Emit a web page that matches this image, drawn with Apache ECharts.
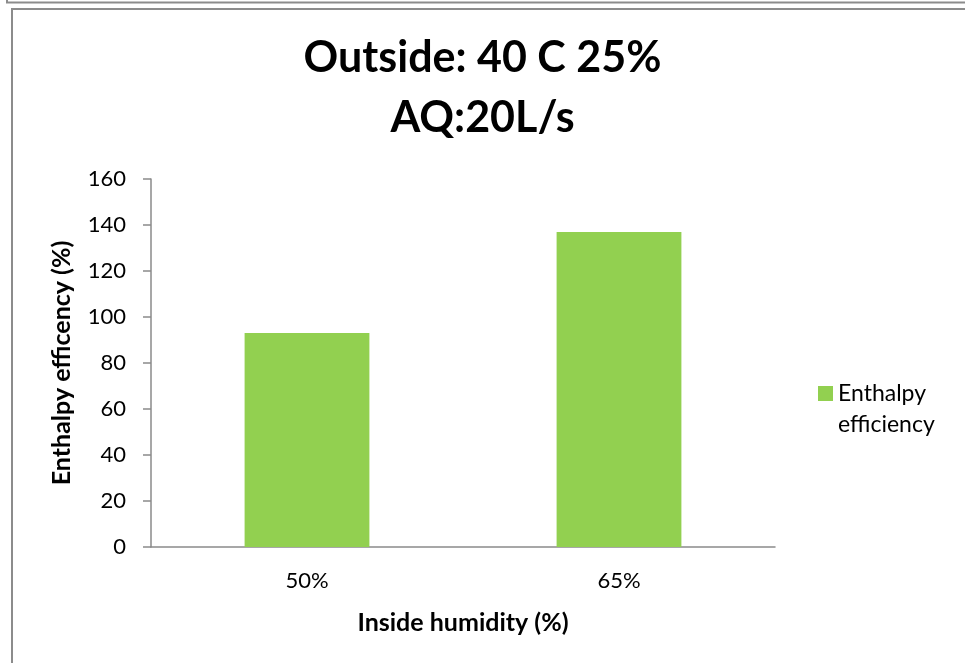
<!DOCTYPE html>
<html>
<head>
<meta charset="utf-8">
<script src="https://cdn.jsdelivr.net/npm/echarts@6/dist/echarts.min.js"></script>
<style>
html,body{margin:0;padding:0;background:#fff;}
#chart{width:965px;height:663px;}
</style>
</head>
<body>
<div id="chart"></div>
<script>
const categories = ['50%', '65%'];
const enthalpyEfficiency = [93, 137];
const titleLines = ['Outside: 40 C 25%', 'AQ:20L/s'];
const seriesName = 'Enthalpy efficiency';
const legendLines = ['Enthalpy', 'efficiency'];
const xAxisName = 'Inside humidity (%)';
const yAxisName = 'Enthalpy efficency (%)';

const FONT = 'Lato, "Open Sans", sans-serif';
const chart = echarts.init(document.getElementById('chart'), null, {renderer: 'canvas'});
chart.setOption({
  backgroundColor: '#fff',
  animation: false,
  title: {
    text: titleLines.join('\n'),
    left: 'center',
    top: 23,
    padding: [5, 5, 5, 17],
    textStyle: {fontFamily: FONT, fontWeight: 'bold', fontSize: 43, lineHeight: 60, color: '#000'}
  },
  legend: {
    orient: 'vertical',
    left: 813,
    top: 342,
    itemWidth: 15,
    itemHeight: 15,
    icon: 'rect',
    formatter: function(){ return ' \n' + legendLines.join('\n'); },
    textStyle: {fontFamily: FONT, fontSize: 23, lineHeight: 31, color: '#000'}
  },
  grid: {left: 151, right: 190, top: 179, bottom: 116, containLabel: false},
  xAxis: {
    type: 'category',
    data: categories,
    name: xAxisName,
    nameLocation: 'middle',
    nameGap: 63,
    nameTextStyle: {fontFamily: FONT, fontWeight: 'bold', fontSize: 25, color: '#000'},
    axisLine: {lineStyle: {color: '#8a8a8a', width: 1.5}},
    axisTick: {show: false},
    axisLabel: {fontFamily: FONT, fontSize: 22, color: '#000', margin: 23}
  },
  yAxis: {
    type: 'value',
    min: 0, max: 160, interval: 20,
    name: yAxisName,
    nameLocation: 'middle',
    nameGap: 77,
    nameRotate: 90,
    nameTextStyle: {fontFamily: FONT, fontWeight: 'bold', fontSize: 25, color: '#000'},
    axisLine: {show: true, lineStyle: {color: '#8a8a8a', width: 1.5}},
    axisTick: {show: true, length: 8, lineStyle: {color: '#8a8a8a', width: 1.5}},
    splitLine: {show: false},
    axisLabel: {fontFamily: FONT, fontSize: 22, color: '#000', margin: 25}
  },
  series: [{
    name: seriesName,
    type: 'bar',
    data: enthalpyEfficiency,
    barWidth: '40%',
    itemStyle: {color: '#92D050'}
  }],
  graphic: [
    {type: 'polyline', shape: {points: [[7, 0], [7, 2.5], [965, 2.5]]}, style: {stroke: '#8c8c8c', lineWidth: 2, fill: null}, silent: true},
    {type: 'rect', shape: {x: 12, y: 9, width: 1000, height: 700}, style: {stroke: '#8c8c8c', lineWidth: 2, fill: null}, silent: true}
  ]
});
</script>
</body>
</html>
